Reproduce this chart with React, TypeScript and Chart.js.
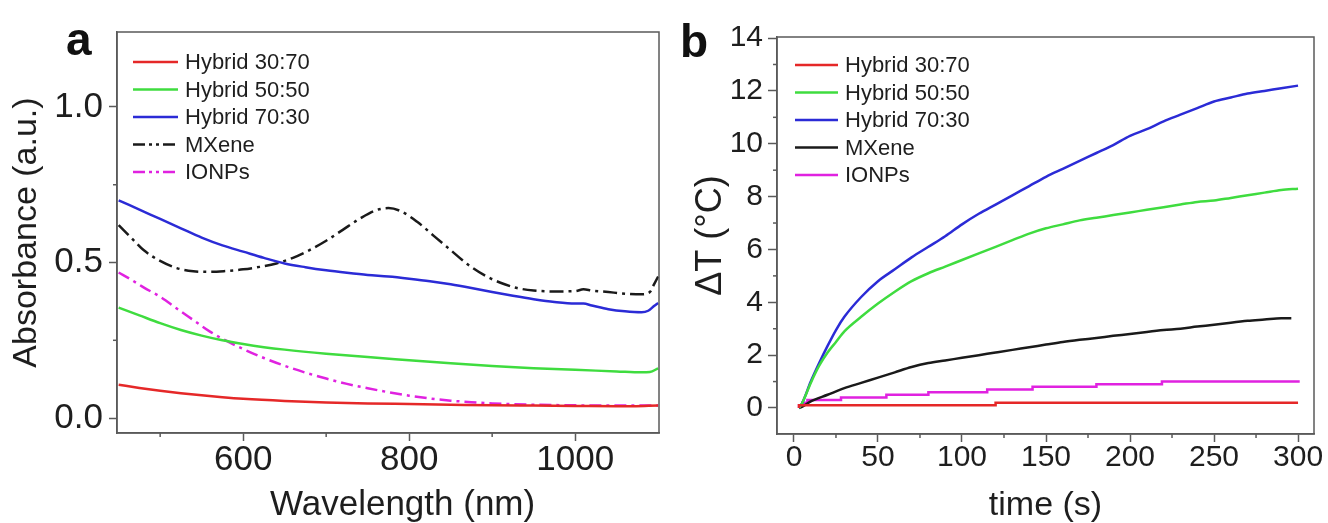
import React, { useEffect, useRef } from "react";
import { Chart, registerables } from "chart.js";

Chart.register(...registerables);

const FONT = "'Liberation Sans', Arial, Helvetica, sans-serif";

// ---------- Panel a : absorbance spectra ----------
const seriesLabels = ["Hybrid 30:70", "Hybrid 50:50", "Hybrid 70:30", "MXene", "IONPs"];
const seriesColors = ["#e52828", "#3fdc3f", "#2b2bd6", "#1a1a1a", "#e022e0"];

const wlHybrid3070 = [450, 475, 500, 525, 550, 575, 600, 650, 700, 750, 800, 850, 900, 950, 1000, 1050, 1100];
const absHybrid3070 = [0.107, 0.097, 0.088, 0.08, 0.073, 0.067, 0.062, 0.055, 0.05, 0.047, 0.045, 0.043, 0.041, 0.04, 0.039, 0.038, 0.04];

const wlHybrid5050 = [450, 475, 500, 525, 550, 575, 600, 625, 650, 700, 750, 800, 850, 900, 950, 1000, 1050, 1080, 1090, 1100];
const absHybrid5050 = [0.355, 0.33, 0.305, 0.283, 0.265, 0.25, 0.238, 0.228, 0.22, 0.207, 0.196, 0.186, 0.176, 0.167, 0.16, 0.155, 0.15, 0.147, 0.148, 0.16];

const wlHybrid7030 = [450, 475, 500, 525, 550, 575, 600, 625, 650, 675, 700, 725, 750, 775, 800, 825, 850, 875, 900, 925, 950, 975, 1000, 1010, 1020, 1040, 1060, 1080, 1088, 1095, 1100];
const absHybrid7030 = [0.7, 0.67, 0.64, 0.61, 0.58, 0.555, 0.535, 0.515, 0.497, 0.485, 0.475, 0.467, 0.46, 0.455, 0.448, 0.44, 0.43, 0.418, 0.405, 0.393, 0.382, 0.373, 0.368, 0.368, 0.362, 0.35, 0.343, 0.34, 0.345, 0.36, 0.37];

const wlMXene = [450, 465, 480, 500, 520, 540, 560, 580, 600, 620, 640, 660, 680, 700, 720, 740, 760, 775, 790, 810, 830, 850, 870, 890, 910, 930, 950, 975, 1000, 1010, 1020, 1040, 1060, 1080, 1090, 1095, 1100];
const absMXene = [0.62, 0.58, 0.54, 0.505, 0.482, 0.472, 0.47, 0.473, 0.478, 0.486, 0.497, 0.515, 0.54, 0.57, 0.605, 0.64, 0.668, 0.675, 0.665, 0.63, 0.585, 0.54, 0.495, 0.46, 0.435, 0.418, 0.41, 0.407, 0.408, 0.414, 0.41, 0.405, 0.4, 0.398, 0.405, 0.43, 0.455];

const wlIONPs = [450, 465, 480, 500, 520, 540, 560, 580, 600, 625, 650, 675, 700, 725, 750, 775, 800, 825, 850, 875, 900, 950, 1000, 1050, 1100];
const absIONPs = [0.468, 0.445, 0.42, 0.39, 0.352, 0.315, 0.278, 0.248, 0.222, 0.193, 0.168, 0.146, 0.127, 0.11, 0.096, 0.083, 0.072, 0.063, 0.056, 0.051, 0.047, 0.043, 0.041, 0.04, 0.04];

const absTickValues = [0, 0.5, 1.0];
const wlTickValues = [600, 800, 1000];

// ---------- Panel b : temperature rise ----------
const tHybrid3070 = [3, 120, 233, 300];
const dtHybrid3070 = [0, 0.1, 0.2, 0.2];

const tHybrid5050 = [3, 5, 10, 15, 20, 25, 30, 40, 50, 60, 70, 80, 90, 100, 110, 120, 130, 140, 150, 160, 170, 180, 190, 200, 210, 220, 230, 240, 250, 260, 270, 280, 290, 300];
const dtHybrid5050 = [0, 0.2, 0.95, 1.6, 2.1, 2.5, 2.9, 3.45, 3.95, 4.4, 4.8, 5.1, 5.35, 5.6, 5.85, 6.1, 6.35, 6.6, 6.8, 6.95, 7.1, 7.2, 7.3, 7.4, 7.5, 7.6, 7.7, 7.8, 7.85, 7.95, 8.05, 8.15, 8.25, 8.3];

const tHybrid7030 = [3, 5, 10, 15, 20, 25, 30, 40, 50, 60, 70, 80, 90, 100, 110, 120, 130, 140, 150, 160, 170, 180, 190, 200, 210, 220, 230, 240, 250, 260, 270, 280, 290, 300];
const dtHybrid7030 = [0, 0.2, 1.0, 1.7, 2.35, 2.95, 3.45, 4.2, 4.8, 5.25, 5.7, 6.1, 6.5, 6.95, 7.35, 7.7, 8.05, 8.4, 8.75, 9.05, 9.35, 9.65, 9.95, 10.3, 10.55, 10.85, 11.1, 11.35, 11.6, 11.75, 11.9, 12.0, 12.1, 12.2];

const tMXene = [3, 5, 10, 20, 30, 40, 50, 60, 70, 80, 90, 100, 110, 120, 130, 140, 150, 160, 170, 180, 190, 200, 210, 220, 230, 240, 250, 260, 270, 280, 290, 296];
const dtMXene = [0, 0.05, 0.25, 0.5, 0.75, 0.95, 1.15, 1.35, 1.55, 1.7, 1.8, 1.9, 2.0, 2.1, 2.2, 2.3, 2.4, 2.5, 2.58, 2.65, 2.73, 2.8, 2.88, 2.95, 3.0, 3.08, 3.15, 3.23, 3.3, 3.35, 3.4, 3.4];

const tIONPs = [3, 5, 8, 28, 55, 80, 115, 142, 180, 219, 257, 301];
const dtIONPs = [0, 0.1, 0.2, 0.3, 0.4, 0.5, 0.6, 0.7, 0.8, 0.9, 1.0, 1.0];

const timeTickValues = [0, 50, 100, 150, 200, 250, 300];
const dtTickValues = [0, 2, 4, 6, 8, 10, 12, 14];

const zip = (xs: number[], ys: number[]) => xs.map((x, i) => ({ x, y: ys[i] }));

// ---------- plugins ----------
const framePlugin = {
  id: "frameBox",
  afterDraw(chart: any, _args: any, opts: any) {
    const { ctx, chartArea: a } = chart;
    const xs = chart.scales.x;
    const ys = chart.scales.y;
    ctx.save();
    ctx.strokeStyle = opts.color;
    ctx.lineWidth = opts.width;
    ctx.strokeRect(a.left, a.top, a.right - a.left, a.bottom - a.top);
    (opts.minorX || []).forEach((v: number) => {
      const p = xs.getPixelForValue(v);
      ctx.beginPath();
      ctx.moveTo(p, a.bottom);
      ctx.lineTo(p, a.bottom + opts.minorLen);
      ctx.stroke();
    });
    (opts.minorY || []).forEach((v: number) => {
      const p = ys.getPixelForValue(v);
      ctx.beginPath();
      ctx.moveTo(a.left, p);
      ctx.lineTo(a.left - opts.minorLen, p);
      ctx.stroke();
    });
    ctx.restore();
  },
};

const legendPlugin = {
  id: "insideLegend",
  afterDatasetsDraw(chart: any, _args: any, opts: any) {
    const { ctx, chartArea: a } = chart;
    ctx.save();
    chart.data.datasets.forEach((ds: any, i: number) => {
      const y = a.top + opts.top + i * opts.rowH;
      const x0 = a.left + opts.left;
      ctx.strokeStyle = ds.borderColor;
      ctx.lineWidth = ds.borderWidth;
      ctx.setLineDash(ds.legendDash || ds.borderDash || []);
      ctx.beginPath();
      ctx.moveTo(x0, y);
      ctx.lineTo(x0 + opts.lineLen, y);
      ctx.stroke();
      ctx.setLineDash([]);
      ctx.fillStyle = opts.color;
      ctx.font = opts.font;
      ctx.textBaseline = "middle";
      ctx.textAlign = "left";
      ctx.fillText(ds.label, x0 + opts.lineLen + opts.gap, y + 1);
    });
    ctx.restore();
  },
};

const AXIS = "#5a5a5a";
const TXT = "#1e1e1e";

function makeAbsConfig(): any {
  const dashes: (number[] | undefined)[] = [undefined, undefined, undefined, [14, 5, 3, 5], [12, 5, 3, 5]];
  const xs = [wlHybrid3070, wlHybrid5050, wlHybrid7030, wlMXene, wlIONPs];
  const ys = [absHybrid3070, absHybrid5050, absHybrid7030, absMXene, absIONPs];
  return {
    type: "line",
    data: {
      datasets: seriesLabels.map((label, i) => ({
        label,
        data: zip(xs[i], ys[i]),
        borderColor: seriesColors[i],
        borderWidth: 2.5,
        borderDash: dashes[i],
        legendDash: i === 3 || i === 4 ? [12, 4, 3, 4, 3, 4] : undefined,
        pointRadius: 0,
        fill: false,
        cubicInterpolationMode: "monotone",
      })),
    },
    options: {
      animation: false,
      responsive: false,
      devicePixelRatio: 1,
      layout: { padding: { left: 0, top: 32, right: 5, bottom: 0 } },
      plugins: {
        legend: { display: false },
        tooltip: { enabled: false },
        frameBox: { color: AXIS, width: 1.5, minorLen: 4, minorX: [500, 700, 900], minorY: [0.25, 0.75] },
        insideLegend: { left: 16, top: 30, rowH: 27.5, lineLen: 45, gap: 7, color: TXT, font: `22px ${FONT}` },
      },
      scales: {
        x: {
          type: "linear",
          min: 448,
          max: 1101,
          afterFit: (s: any) => { s.height = 90; },
          afterBuildTicks: (s: any) => { s.ticks = wlTickValues.map((v) => ({ value: v })); },
          border: { color: AXIS, width: 1.5 },
          grid: { drawOnChartArea: false, drawTicks: true, tickLength: 8, tickColor: AXIS, tickWidth: 1.5 },
          ticks: { color: TXT, font: { family: FONT, size: 35, lineHeight: 1 }, padding: 2, maxRotation: 0, autoSkip: false, callback: (v: any) => String(v) },
          title: { display: true, text: "   Wavelength (nm)", color: TXT, font: { family: FONT, size: 35, lineHeight: 1 }, padding: { top: 0, bottom: 0 } },
        },
        y: {
          type: "linear",
          min: -0.048,
          max: 1.241,
          afterFit: (s: any) => { s.width = 117; },
          afterBuildTicks: (s: any) => { s.ticks = absTickValues.map((v) => ({ value: v })); },
          border: { color: AXIS, width: 1.5 },
          grid: { drawOnChartArea: false, drawTicks: true, tickLength: 8, tickColor: AXIS, tickWidth: 1.5 },
          ticks: { color: TXT, font: { family: FONT, size: 35, lineHeight: 1 }, padding: 6, callback: (v: any) => Number(v).toFixed(1) },
          title: { display: true, text: "Absorbance (a.u.)", color: TXT, font: { family: FONT, size: 34, lineHeight: 1 }, padding: { top: 10, bottom: 0 } },
        },
      },
    },
    plugins: [framePlugin, legendPlugin],
  };
}

function makeTempConfig(): any {
  const xs = [tHybrid3070, tHybrid5050, tHybrid7030, tMXene, tIONPs];
  const ys = [dtHybrid3070, dtHybrid5050, dtHybrid7030, dtMXene, dtIONPs];
  return {
    type: "line",
    data: {
      datasets: seriesLabels.map((label, i) => ({
        label,
        data: zip(xs[i], ys[i]),
        borderColor: seriesColors[i],
        borderWidth: 2.5,
        pointRadius: 0,
        fill: false,
        stepped: i === 0 || i === 4 ? "after" : false,
        cubicInterpolationMode: "monotone",
      })),
    },
    options: {
      animation: false,
      responsive: false,
      devicePixelRatio: 1,
      layout: { padding: { left: 0, top: 37, right: 14, bottom: 0 } },
      plugins: {
        legend: { display: false },
        tooltip: { enabled: false },
        frameBox: {
          color: AXIS, width: 1.5, minorLen: 4,
          minorX: [25, 75, 125, 175, 225, 275],
          minorY: [1, 3, 5, 7, 9, 11, 13],
        },
        insideLegend: { left: 18, top: 28, rowH: 27.5, lineLen: 43, gap: 7, color: TXT, font: `22px ${FONT}` },
      },
      scales: {
        x: {
          type: "linear",
          min: -10.1,
          max: 309.5,
          afterFit: (s: any) => { s.height = 89; },
          afterBuildTicks: (s: any) => { s.ticks = timeTickValues.map((v) => ({ value: v })); },
          border: { color: AXIS, width: 1.5 },
          grid: { drawOnChartArea: false, drawTicks: true, tickLength: 8, tickColor: AXIS, tickWidth: 1.5 },
          ticks: { color: TXT, font: { family: FONT, size: 30, lineHeight: 1 }, padding: 1, maxRotation: 0, autoSkip: false, callback: (v: any) => String(v) },
          title: { display: true, text: "time (s)", color: TXT, font: { family: FONT, size: 34, lineHeight: 1 }, padding: { top: 0, bottom: 0 } },
        },
        y: {
          type: "linear",
          min: -0.984,
          max: 14.04,
          afterFit: (s: any) => { s.width = 113; },
          afterBuildTicks: (s: any) => { s.ticks = dtTickValues.map((v) => ({ value: v })); },
          border: { color: AXIS, width: 1.5 },
          grid: { drawOnChartArea: false, drawTicks: true, tickLength: 9, tickColor: AXIS, tickWidth: 1.5 },
          ticks: { color: TXT, font: { family: FONT, size: 30, lineHeight: 1 }, padding: 5, callback: (v: any) => String(v) },
          title: { display: true, text: "ΔT (°C)", color: TXT, font: { family: FONT, size: 36, lineHeight: 1 }, padding: { top: 29, bottom: 0 } },
        },
      },
    },
    plugins: [framePlugin, legendPlugin],
  };
}

function ChartPanel({ left, width, height, make }: { left: number; width: number; height: number; make: () => any }) {
  const ref = useRef<HTMLCanvasElement>(null);
  useEffect(() => {
    const chart = new Chart(ref.current as HTMLCanvasElement, make());
    return () => chart.destroy();
  }, []);
  return (
    <div style={{ position: "absolute", left, top: 0, width, height }}>
      <canvas ref={ref} width={width} height={height} style={{ width, height, display: "block" }} />
    </div>
  );
}

const panelLetter: React.CSSProperties = {
  position: "absolute",
  fontFamily: FONT,
  fontWeight: "bold",
  fontSize: 46,
  lineHeight: "46px",
  color: "#111",
  margin: 0,
};

export default function App() {
  return (
    <div style={{ position: "absolute", left: 0, top: 0, width: 1328, height: 523, background: "#fff", overflow: "hidden" }}>
      <ChartPanel left={0} width={664} height={523} make={makeAbsConfig} />
      <ChartPanel left={664} width={664} height={523} make={makeTempConfig} />
      <div style={{ ...panelLetter, left: 66, top: 16 }}>a</div>
      <div style={{ ...panelLetter, left: 680, top: 18 }}>b</div>
    </div>
  );
}
